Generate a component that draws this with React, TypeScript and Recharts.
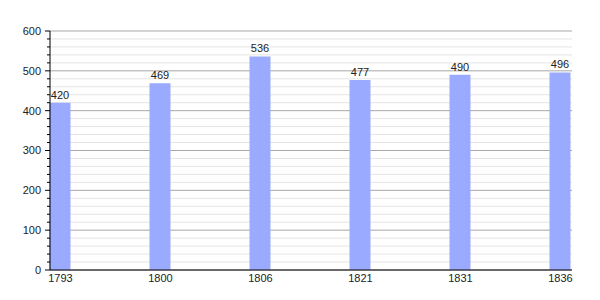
import React from "react";
import { BarChart, Bar, XAxis, YAxis, CartesianGrid, LabelList } from "recharts";

const years = ["1793", "1800", "1806", "1821", "1831", "1836"];
const population = [420, 469, 536, 477, 490, 496];
const yTicks = [
  0, 20, 40, 60, 80, 100, 120, 140, 160, 180, 200, 220, 240, 260, 280, 300,
  320, 340, 360, 380, 400, 420, 440, 460, 480, 500, 520, 540, 560, 580, 600,
];

const data = years.map((year, i) => ({ idx: i, year, value: population[i] }));

const YTick = (props: any) => {
  const { x, y, payload } = props;
  const major = payload.value % 100 === 0;
  return (
    <g>
      <line x1={x - (major ? 5 : 3)} x2={x} y1={y} y2={y} stroke="#000" />
      {major && (
        <text x={x - 9} y={y} dy="0.35em" textAnchor="end" fontSize={11} fill="#222">
          {payload.value}
        </text>
      )}
    </g>
  );
};

const gridLine = (props: any) => {
  const { x1, x2, y1, index } = props;
  const major = index % 5 === 0;
  return (
    <line
      key={`g-${index}`}
      x1={x1}
      x2={x2}
      y1={y1}
      y2={y1}
      stroke={major ? "#a8a8a8" : "#e4e4e4"}
      strokeWidth={1}
    />
  );
};

export default function App() {
  return (
    <div style={{ position: "absolute", left: 0, top: 0, fontFamily: "Liberation Sans, Arial, sans-serif" }}>
      <BarChart
        width={600}
        height={300}
        data={data}
        margin={{ top: 31, right: 28, bottom: 0, left: 0 }}
      >
        <CartesianGrid vertical={false} horizontal={gridLine} />
        <XAxis
          dataKey="idx"
          type="number"
          domain={[-0.105, 5.115]}
          ticks={[0, 1, 2, 3, 4, 5]}
          tickFormatter={(v: number) => years[v]}
          tickLine={false}
          tickSize={0}
          tickMargin={4}
          height={30}
          stroke="#000"
          tick={{ fontSize: 11, fill: "#222" }}
          interval={0}
        />
        <YAxis
          type="number"
          domain={[0, 600]}
          ticks={yTicks}
          width={50}
          tickLine={false}
          tickSize={0}
          tickMargin={0}
          stroke="#000"
          tick={<YTick />}
          interval={0}
        />
        <Bar dataKey="value" fill="#99aaff" barSize={21} isAnimationActive={false}>
          <LabelList dataKey="value" position="top" offset={4} fontSize={11} fill="#222" />
        </Bar>
      </BarChart>
    </div>
  );
}
